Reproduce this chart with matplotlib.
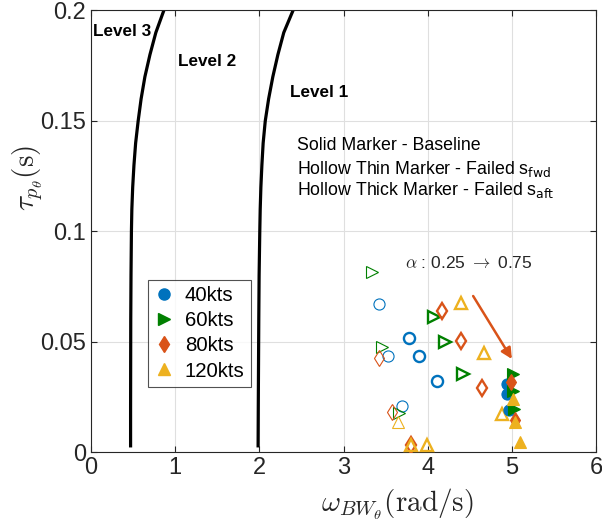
import matplotlib.pyplot as plt
from matplotlib.lines import Line2D

plt.rcParams['font.family'] = ['Liberation Sans', 'DejaVu Sans']
plt.rcParams['mathtext.fontset'] = 'cm'

# fronteiras de nivel (leitura manual da curva)
nivel_y = [0.003, 0.02, 0.04, 0.06, 0.08, 0.10, 0.11, 0.12, 0.13, 0.14, 0.15, 0.16, 0.17, 0.18, 0.19, 0.2]
nivel1_x = [1.985, 1.987, 1.99, 1.993, 1.997, 2.005, 2.01, 2.018, 2.03, 2.045, 2.07, 2.11, 2.16, 2.22, 2.29, 2.40]
nivel3_x = [0.47, 0.47, 0.471, 0.472, 0.475, 0.48, 0.485, 0.495, 0.51, 0.53, 0.56, 0.595, 0.64, 0.70, 0.77, 0.865]

velocidades = ['40kts', '60kts', '80kts', '120kts']
cores = ['#0072BD', '#008000', '#D95319', '#EDB120']
marcadores = ['o', '>', 'd', '^']

# baseline (cheio)
base_x = [[4.94, 4.94, 4.97], [5.01, 5.01, 5.02], [4.99, 5.04], [5.01, 5.04, 5.10]]
base_y = [[0.031, 0.0265, 0.0192], [0.0355, 0.028, 0.0195], [0.032, 0.0146], [0.024, 0.0139, 0.0049]]
# falha s_fwd (vazado fino)
fwd_x = [[3.42, 3.53, 3.69], [3.34, 3.46, 3.66], [3.42, 3.58], [3.65]]
fwd_y = [[0.0672, 0.0435, 0.021], [0.0817, 0.0476, 0.0178], [0.0428, 0.0184], [0.0136]]
# falha s_aft (vazado grosso)
aft_x = [[3.78, 3.90, 4.11], [4.07, 4.21, 4.42], [3.80, 4.17, 4.39, 4.64], [3.80, 3.99, 4.40, 4.67, 4.88]]
aft_y = [[0.0517, 0.0438, 0.0323], [0.0614, 0.0502, 0.0356], [0.0036, 0.064, 0.0504, 0.029], [0.0036, 0.0032, 0.0677, 0.0451, 0.0173]]

fig = plt.figure(figsize=(6.02, 5.27), dpi=100)
ax = fig.add_axes([0.1512, 0.1414, 0.8389, 0.8387])

ax.plot(nivel1_x, nivel_y, color='k', lw=2.3, zorder=2)
ax.plot(nivel3_x, nivel_y, color='k', lw=2.3, zorder=2)

for i in range(4):
    ax.plot(fwd_x[i], fwd_y[i], ls='none', marker=marcadores[i], ms=8, mfc='none',
            mec=cores[i], mew=0.8, zorder=3)
    ax.plot(aft_x[i], aft_y[i], ls='none', marker=marcadores[i], ms=8, mfc='none',
            mec=cores[i], mew=1.7, zorder=3)
    ax.plot(base_x[i], base_y[i], ls='none', marker=marcadores[i], ms=8, mfc=cores[i],
            mec=cores[i], mew=0.8, zorder=4)

ax.annotate('', xy=(5.0, 0.0423), xytext=(4.54, 0.0708),
            arrowprops=dict(arrowstyle='-|>', color='#D95319', lw=1.8,
                            mutation_scale=16, shrinkA=0, shrinkB=0), zorder=5)

ax.text(4.49, 0.0857, r'$\alpha$ : 0.25 $\rightarrow$ 0.75', fontsize=12.5, ha='center',
        va='center', color='#262626')
ax.text(2.45, 0.1387, 'Solid Marker - Baseline', fontsize=12.8, va='center')
ax.text(2.45, 0.1285, r'Hollow Thin Marker - Failed s$_{\mathrm{fwd}}$', fontsize=12.8,
        va='center', math_fontfamily='dejavusans')
ax.text(2.45, 0.1187, r'Hollow Thick Marker - Failed s$_{\mathrm{aft}}$', fontsize=12.8,
        va='center', math_fontfamily='dejavusans')

ax.text(0.02, 0.1907, 'Level 3', fontsize=12.3, fontweight='bold', va='center')
ax.text(1.03, 0.1770, 'Level 2', fontsize=12.3, fontweight='bold', va='center')
ax.text(2.36, 0.1630, 'Level 1', fontsize=12.3, fontweight='bold', va='center')

handles = [Line2D([], [], ls='none', marker=marcadores[i], ms=8, mfc=cores[i], mec=cores[i])
           for i in range(4)]
leg = ax.legend(handles, velocidades, loc='upper left', bbox_to_anchor=(0.113, 0.390),
                borderaxespad=0, fontsize=14.7, frameon=True, fancybox=False,
                handlelength=1.0, handletextpad=0.5, labelspacing=0.3, borderpad=0.3)
leg.get_frame().set_edgecolor('#262626')
leg.get_frame().set_linewidth(0.8)

ax.set_xlim(0, 6)
ax.set_ylim(0, 0.2)
ax.set_xticks(range(7))
ax.set_yticks([0, 0.05, 0.1, 0.15, 0.2])
ax.set_yticklabels(['0', '0.05', '0.1', '0.15', '0.2'])
ax.tick_params(direction='in', top=True, right=True, labelsize=17, colors='#262626', length=4)
ax.grid(True, color='#dfdfdf', lw=0.8)
ax.set_axisbelow(True)
for s in ax.spines.values():
    s.set_color('#262626')
    s.set_linewidth(0.8)

ax.set_xlabel(r'$\omega_{BW_\theta}(\mathrm{rad/s})$', fontsize=21, color='#262626')
ax.set_ylabel(r'$\tau_{p_\theta}(\mathrm{s})$', fontsize=21, color='#262626')
ax.xaxis.set_label_coords(0.606, -0.078)
ax.yaxis.set_label_coords(-0.092, 0.621)

fig.savefig('out.png', dpi=100)
